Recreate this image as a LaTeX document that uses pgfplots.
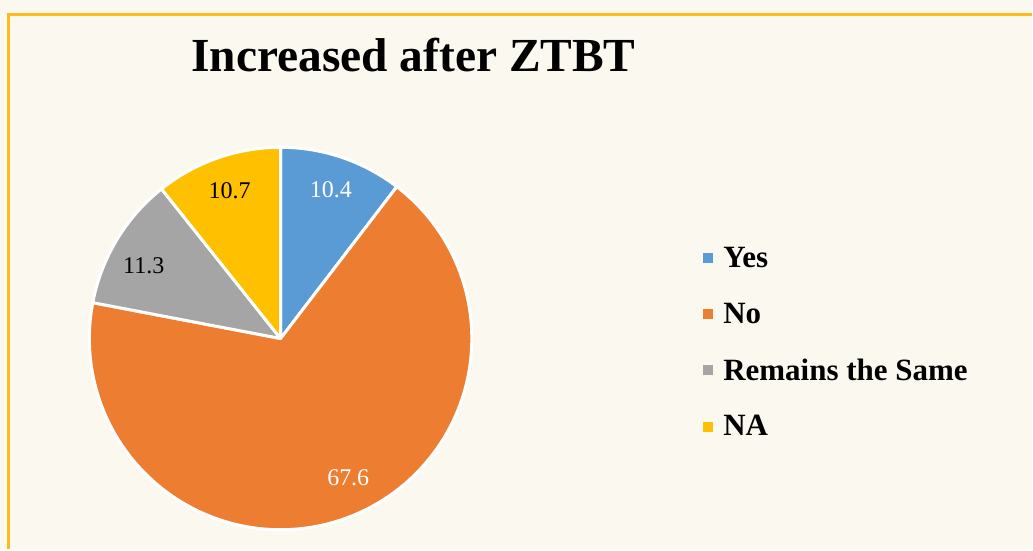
\documentclass[border=0pt]{standalone}
\usepackage{pgfplots}
\pgfplotsset{compat=1.18}
\usepgfplotslibrary{polar}
\usepackage{fontspec}
\setmainfont{Liberation Serif}
\definecolor{cYes}{HTML}{5B9BD5}
\definecolor{cNo}{HTML}{ED7D31}
\definecolor{cSame}{HTML}{A5A5A5}
\definecolor{cNA}{HTML}{FFC000}
\definecolor{bg}{HTML}{FBF8EF}
\definecolor{frame}{HTML}{FDBB1E}
\begin{document}
\begin{tikzpicture}[x=1pt,y=1pt]
\fill[bg] (0,0) rectangle (1033,550);
\draw[frame, line width=3pt] (9,0) -- (9,535) -- (1033,535);
\useasboundingbox (0,0) rectangle (1033,550);
\coordinate (C) at (281,211);
\node[anchor=base, font=\bfseries\fontsize{47.5}{50}\selectfont] at (414,478) {Increased after ZTBT};
% data (percent)
\pgfmathsetmacro\vYes{10.4}
\pgfmathsetmacro\vNo{67.6}
\pgfmathsetmacro\vSame{11.3}
\pgfmathsetmacro\vNA{10.7}
\pgfmathsetmacro\aA{90}
\pgfmathsetmacro\aB{\aA-3.6*\vYes}
\pgfmathsetmacro\aC{\aB-3.6*\vNo}
\pgfmathsetmacro\aD{\aC-3.6*\vSame}
\pgfmathsetmacro\aE{\aD-3.6*\vNA}
\begin{polaraxis}[
  at={(C)}, anchor=origin,
  scale only axis, width=383pt, height=383pt,
  ymin=0, ymax=1, hide axis, clip=false,
  legend image code/.code={\fill[#1, draw=none] (0pt,-5pt) rectangle (10pt,5pt);},
  legend cell align=left,
  legend style={draw=none, fill=none, at={(1.605,0.49)}, anchor=west,
    font=\bfseries\fontsize{31}{34}\selectfont, row sep=30pt, column sep=8pt, inner sep=0pt},
]
\addplot[fill=cYes, draw=white, line width=3pt, line join=round, domain=\aB:\aA, samples=60] {1} -- (axis cs:0,0) -- cycle;
\addlegendentry{Yes}
\addplot[fill=cNo, draw=white, line width=3pt, line join=round, domain=\aC:\aB, samples=200] {1} -- (axis cs:0,0) -- cycle;
\addlegendentry{No}
\addplot[fill=cSame, draw=white, line width=3pt, line join=round, domain=\aD:\aC, samples=60] {1} -- (axis cs:0,0) -- cycle;
\addlegendentry{Remains the Same}
\addplot[fill=cNA, draw=white, line width=3pt, line join=round, domain=\aE:\aD, samples=60] {1} -- (axis cs:0,0) -- cycle;
\addlegendentry{NA}
\node[white, font=\fontsize{24}{28}\selectfont] at (axis cs:71.3,0.82) {10.4};
\node[black, font=\fontsize{24}{28}\selectfont] at (axis cs:109,0.82) {10.7};
\node[black, font=\fontsize{24}{28}\selectfont] at (axis cs:152.1,0.81) {11.3};
\node[white, font=\fontsize{24}{28}\selectfont] at (axis cs:-64.1,0.81) {67.6};
\end{polaraxis}
\end{tikzpicture}
\end{document}
